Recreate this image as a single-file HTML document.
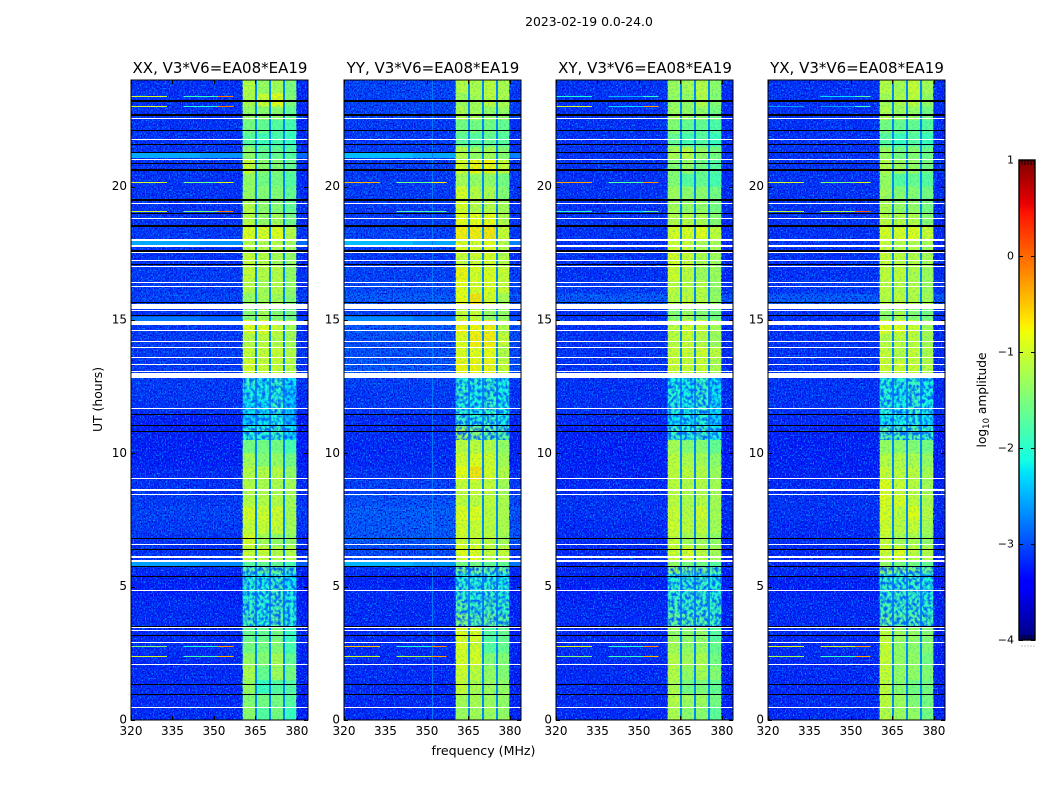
<!DOCTYPE html>
<html lang="en">
<head>
<meta charset="utf-8">
<title>2023-02-19 0.0-24.0 amplitude waterfall</title>
<style>
html,body{margin:0;padding:0;background:#fff;width:1050px;height:800px;overflow:hidden}
svg{display:block}
text{font-family:"DejaVu Sans","Liberation Sans",sans-serif;fill:#000}
</style>
</head>
<body>
<svg id="chart" xmlns="http://www.w3.org/2000/svg" width="1050" height="800" viewBox="0 0 1050 800">
<defs>
<filter id="grain-light" x="0" y="0" width="1" height="1" color-interpolation-filters="sRGB"><feTurbulence type="fractalNoise" baseFrequency="0.75 0.6" numOctaves="1" seed="4"/><feColorMatrix values="0 0 0 0 0  0 0 0 0 .6  0 0 0 0 1  4 0 0 0 -1.95"/></filter>
<filter id="grain-dark" x="0" y="0" width="1" height="1" color-interpolation-filters="sRGB"><feTurbulence type="fractalNoise" baseFrequency="0.75 0.6" numOctaves="1" seed="11"/><feColorMatrix values="0 0 0 0 0  0 0 0 0 .02  0 0 0 0 .8  4 0 0 0 -1.9"/></filter>
<filter id="grain-quiet" x="0" y="0" width="1" height="1" color-interpolation-filters="sRGB"><feTurbulence type="fractalNoise" baseFrequency="0.32 0.28" numOctaves="2" seed="23"/><feColorMatrix values="0 0 0 0 0  0 0 0 0 .38  0 0 0 0 1  3.2 0 0 0 -1.25"/></filter>
<filter id="grain-band" x="0" y="0" width="1" height="1" color-interpolation-filters="sRGB"><feTurbulence type="fractalNoise" baseFrequency="0.5 0.55" numOctaves="1" seed="31"/><feColorMatrix values="0 0 0 0 0  0 0 0 0 .75  0 0 0 0 .7  2 0 0 0 -.85"/></filter>
<linearGradient id="colorbar-gradient" x1="0" y1="1" x2="0" y2="0"></linearGradient>
</defs>
<text x="589" y="26" font-size="12.4" text-anchor="middle">2023-02-19 0.0-24.0</text>
<text x="483.5" y="755" font-size="12.6" text-anchor="middle">frequency (MHz)</text>
<text transform="translate(102,399.5) rotate(-90)" font-size="12.4" text-anchor="middle">UT (hours)</text>
<text transform="translate(986,400) rotate(-90)" font-size="12.2" text-anchor="middle">log<tspan font-size="8.5" dy="3">10</tspan><tspan dy="-3"> amplitude</tspan></text>
<g id="panels"></g>
<g id="colorbar"></g>
</svg>
<script>
const panelTitles = ["XX, V3*V6=EA08*EA19", "YY, V3*V6=EA08*EA19", "XY, V3*V6=EA08*EA19", "YX, V3*V6=EA08*EA19"];
const xTicks = [320, 335, 350, 365, 380];
const yTicks = [0, 5, 10, 15, 20];
const colorTicks = [1, 0, -1, -2, -3, -4];
const freqRange = [320, 384];
const utRange = [0, 24];
const colorRange = [-4, 1];
const rowHours = 0.5;
const bandEdges = [[360.4, 364.8], [365.6, 369.9], [370.6, 374.9], [375.6, 379.8]];
const gapLevel = -2.72;

/* log10 amplitude per half-hour row, four receiver bands: [b1, b2, b3, b4] */
const xxBands = [[-1.35,-1.7,-1.5,-1.9],[-1.4,-1.5,-1.5,-1.7],[-1.3,-1.9,-1.7,-1.7],[-1.15,-1.6,-1.25,-1.5],[-1.3,-1.4,-1.2,-1.6],[-1.5,-1.5,-1.4,-1.8],[-1.6,-1.6,-1.5,-1.9],[-1.8,-2,-1.7,-2],[-1.9,-2,-1.8,-2],[-2,-2,-1.8,-2.1],[-2,-2.1,-1.9,-2.2],[-1.7,-1.6,-1.6,-1.8],[-1,-1,-1.1,-1.1],[-.9,-1.2,-1.3,-1.3],[-1,-1,-1,-1.2],[-.9,-.95,-.95,-1.2],[-1.1,-1.1,-1.1,-1.2],[-1.1,-1.15,-1.15,-1.2],[-1.1,-1.1,-1.1,-1.3],[-1.2,-1.4,-1.3,-1.5],[-1.5,-1.5,-1.5,-1.8],[-2,-2,-1.9,-2.2],[-2.3,-2.2,-2.1,-2.4],[-2.2,-2.2,-1.9,-2.3],[-2.1,-2.1,-2,-2.3],[-1.9,-2.1,-1.9,-2.2],[-.9,-1,-1,-1.1],[-1,-1,-1,-1.1],[-1.1,-1.05,-1.1,-1.2],[-.85,-.85,-1,-1.2],[-1.4,-1.2,-1.4,-1.5],[-1.3,-1.2,-1.2,-1.4],[-1.1,-1.2,-1.1,-1.3],[-1,-1.1,-1.1,-1.3],[-1,-1.1,-1.2,-1.3],[-1.1,-1.1,-1.1,-1.2],[-.85,-.9,-.85,-1.1],[-1.1,-1.3,-1.2,-1.5],[-1.1,-1.35,-1.4,-1.6],[-1.3,-1.4,-1.4,-1.6],[-1.3,-1.5,-1.5,-1.7],[-1,-1.35,-1.4,-1.6],[-1.35,-1.6,-1.6,-1.7],[-1.7,-1.85,-1.8,-1.9],[-1.5,-1.6,-1.7,-1.8],[-1.3,-1.35,-1.35,-1.6],[-1.15,-1,-.85,-1.4],[-1.1,-1.3,-1.2,-1.45]];
const yyBands = [[-1.25,-1.2,-1.25,-1.3],[-1.2,-1.15,-1.25,-1.3],[-1,-1.15,-1.25,-1.3],[-.95,-1.05,-1.3,-1.4],[-.9,-.9,-1.4,-1.4],[-.9,-.95,-1.7,-1.6],[-.85,-.9,-1.7,-1.6],[-1.4,-1.7,-1.6,-1.7],[-1.7,-1.9,-1.8,-1.9],[-1.9,-2,-1.9,-2],[-2,-2,-2,-2.1],[-1.5,-1.5,-1.6,-1.6],[-.85,-.85,-1,-1],[-.95,-1,-1.05,-1.2],[-.9,-1,-1.05,-1.15],[-.85,-.85,-1.05,-1.15],[-1.05,-1.05,-1.05,-1.15],[-1,-1,-1,-1.2],[-.8,-.65,-.9,-1.1],[-.95,-.85,-.95,-1.2],[-1.05,-1.05,-1.1,-1.3],[-1.2,-1.4,-1.6,-1.7],[-1.9,-2,-1.9,-2.1],[-2,-2.1,-1.9,-2.1],[-1.9,-2.1,-1.9,-2.1],[-2,-2,-1.9,-2.1],[-.75,-.75,-.75,-1],[-.85,-.8,-.8,-1.1],[-.85,-.7,-.7,-1],[-.75,-.75,-.7,-1.1],[-1,-1,-1.3,-1.3],[-.8,-.65,-.9,-1.2],[-.8,-.9,-.85,-1],[-.75,-.9,-.85,-1],[-1,-.95,-.9,-1.1],[-.85,-.9,-.8,-1.1],[-.7,-.7,-.65,-1],[-.8,-.8,-.8,-1.1],[-.9,-1.1,-1.1,-1.2],[-.9,-1.1,-1.15,-1.4],[-1.2,-1.3,-1.3,-1.5],[-.9,-.75,-.75,-1],[-1.1,-1.3,-1.2,-1.4],[-1.65,-1.7,-1.6,-1.7],[-1.5,-1.5,-1.5,-1.6],[-1.15,-1.2,-1.3,-1.3],[-1.25,-1.2,-1.05,-1.15],[-1.1,-1.15,-1.05,-1.15]];
const xyBands = [[-1.15,-1.35,-1.35,-1.65],[-1.1,-1.25,-1.25,-1.5],[-1.15,-1.5,-1.45,-1.6],[-1.1,-1.3,-1.2,-1.4],[-1.1,-1.2,-1.15,-1.5],[-1.2,-1.3,-1.3,-1.6],[-1.3,-1.35,-1.3,-1.7],[-1.6,-1.7,-1.7,-1.85],[-1.8,-1.9,-1.85,-1.9],[-1.9,-1.9,-1.9,-2],[-2,-1.95,-1.9,-2.05],[-1.3,-1.5,-1.5,-1.7],[-.95,-.9,-1.05,-1.2],[-1,-1.2,-1.2,-1.3],[-.95,-1.05,-1.05,-1.2],[-1,-1.1,-.95,-1.2],[-1.05,-1.15,-1.1,-1.2],[-1.05,-1.1,-1.1,-1.2],[-1.05,-1.05,-1.1,-1.25],[-1.05,-1.15,-1.2,-1.35],[-1.2,-1.4,-1.4,-1.6],[-1.9,-2,-1.85,-2.1],[-2.2,-2.15,-2,-2.3],[-2,-2.1,-1.9,-2.2],[-2,-2.1,-1.9,-2.2],[-2.1,-2.1,-1.9,-2.2],[-.95,-1,-1,-1.15],[-1,-1,-.95,-1.05],[-1.05,-1,-1.1,-1.25],[-1.05,-.95,-1,-1.2],[-1.4,-1.25,-1.4,-1.5],[-1.1,-1.05,-1.1,-1.3],[-1.05,-1.1,-1.1,-1.3],[-.95,-1.05,-1.25,-1.25],[-.9,-1,-1.15,-1.25],[-.95,-1,-1.15,-1.2],[-.9,-.9,-.85,-1.05],[-1.1,-1.1,-1.15,-1.4],[-1.2,-1.3,-1.3,-1.5],[-1.25,-1.35,-1.35,-1.5],[-1.4,-1.7,-1.6,-1.8],[-1.4,-1.3,-1.5,-1.7],[-1.2,-1.1,-1.3,-1.5],[-1.6,-1.8,-1.7,-1.9],[-1.4,-1.6,-1.6,-1.75],[-1.25,-1.3,-1.3,-1.5],[-1.3,-1.3,-1.1,-1.4],[-1.25,-1.2,-1.1,-1.35]];
const yxBands = [[-1.1,-1.25,-1.3,-1.5],[-1.05,-1.25,-1.4,-1.5],[-1.05,-1.35,-1.5,-1.5],[-1,-1.3,-1.3,-1.4],[-1,-1.3,-1.3,-1.5],[-1,-1.3,-1.35,-1.4],[-1.05,-1.25,-1.3,-1.4],[-1.6,-1.7,-1.7,-1.8],[-1.8,-1.85,-1.85,-1.95],[-1.9,-1.85,-1.9,-2],[-1.9,-1.95,-1.9,-2.05],[-1.3,-1.5,-1.5,-1.6],[-.95,-.85,-1.05,-1.1],[-1,-1.2,-1.15,-1.3],[-.95,-1.05,-1,-1.2],[-.9,-1.05,-.85,-1.1],[-.85,-.9,-1.05,-1.15],[-.85,-1,-1.05,-1.2],[-1,-1.05,-1.05,-1.2],[-1.1,-1.1,-1.15,-1.3],[-1.3,-1.35,-1.4,-1.5],[-1.7,-1.75,-1.7,-1.9],[-2.15,-2.1,-2,-2.2],[-2,-2.1,-1.9,-2.1],[-2,-2.1,-1.9,-2.1],[-2,-2,-1.9,-2.1],[-.95,-.95,-1,-1.1],[-1,-1.1,-1,-1.15],[-1.1,-1.05,-1.05,-1.2],[-.85,-.85,-.95,-1.2],[-1.35,-1.2,-1.4,-1.5],[-1.1,-1.05,-1.1,-1.2],[-1.05,-1.1,-1.1,-1.25],[-1.05,-1.05,-1.15,-1.25],[-1,-1.05,-1.1,-1.2],[-1,-1.1,-1.1,-1.2],[-.9,-.9,-.85,-1],[-1.05,-1.1,-1.1,-1.4],[-1.15,-1.3,-1.3,-1.5],[-1.25,-1.4,-1.4,-1.5],[-1.3,-1.7,-1.6,-1.7],[-1.1,-1.25,-1.3,-1.5],[-1.3,-1.5,-1.4,-1.55],[-1.7,-1.9,-1.7,-1.9],[-1.5,-1.6,-1.6,-1.7],[-1.15,-1.25,-1.3,-1.5],[-1.2,-1.15,-1.05,-1.3],[-1.1,-1.2,-1,-1.2]];

/* out-of-band background level per half-hour row */
const xxBackground = [-3.2,-3.2,-3.2,-3.2,-3.2,-3.2,-3.2,-3.2,-3.2,-3.25,-3.25,-3.2,-3.15,-3.15,-3.1,-3.05,-3.1,-3.15,-3.2,-3.25,-3.25,-3.25,-3.25,-3.15,-3.1,-3.1,-3.1,-3.1,-3.1,-3.1,-3.15,-3.05,-3.1,-3.1,-3.15,-3.15,-3.1,-3.15,-3.15,-3.15,-3.15,-3.15,-3.15,-3.15,-3.15,-3.15,-3.15,-3.15];
const yyBackground = [-3.2,-3.2,-3.2,-3.2,-3.2,-3.2,-3.2,-3.2,-3.2,-3.2,-3.25,-3.15,-3,-2.92,-2.92,-2.9,-2.97,-3.05,-3.15,-3.2,-3.2,-3.2,-3.2,-3.1,-3.1,-3.05,-2.92,-2.97,-2.97,-2.92,-3.05,-2.92,-3,-3.05,-3.1,-3.1,-3.05,-3.1,-3.1,-3.1,-3.1,-3.1,-3.1,-3.1,-3.1,-3.05,-3.05,-3.05];
const xyBackground = [-3.2,-3.2,-3.2,-3.2,-3.2,-3.2,-3.2,-3.2,-3.2,-3.25,-3.25,-3.2,-3.2,-3.2,-3.2,-3.15,-3.15,-3.2,-3.25,-3.25,-3.25,-3.25,-3.2,-3.15,-3.15,-3.15,-3.15,-3.15,-3.15,-3.15,-3.15,-2.92,-3.1,-3.15,-3.15,-3.15,-3.15,-3.15,-3.15,-3.15,-3.15,-3.15,-3.15,-3.15,-3.15,-3.15,-3.15,-3.15];
const yxBackground = [-3.2,-3.2,-3.2,-3.2,-3.2,-3.2,-3.2,-3.2,-3.2,-3.25,-3.25,-3.2,-3.2,-3.2,-3.2,-3.15,-3.15,-3.2,-3.25,-3.25,-3.25,-3.25,-3.2,-3.15,-3.15,-3.15,-3.15,-3.15,-3.15,-3.15,-3.15,-2.92,-3.1,-3.15,-3.15,-3.15,-3.15,-3.15,-3.15,-3.15,-3.15,-3.15,-3.15,-3.15,-3.15,-3.15,-3.15,-3.15];

/* UT spans [start, end] flagged as missing (white) or dropped (black) */
const whiteFlags = [[22.54,22.58],[21.75,21.79],[21,21.04],[19.35,19.39],[18.79,18.83],[17.96,18.02],[17.75,17.81],[17.51,17.55],[17.21,17.25],[17,17.04],[16.4,16.44],[16.25,16.29],[15.41,15.6],[15.35,15.39],[14.81,14.96],[14.59,14.63],[14.18,14.21],[13.96,13.99],[13.58,13.62],[13.32,13.36],[13.05,13.09],[12.83,13.01],[11.66,11.7],[9.04,9.08],[8.59,8.66],[8.42,8.46],[6.56,6.6],[6.09,6.15],[5.94,6],[4.84,4.875],[3.43,3.47],[3.34,3.375],[2.89,2.925],[2.06,2.1],[.45,.49]];
const blackFlags = [[23.16,23.24],[22.67,22.74],[22.09,22.14],[21.56,21.6],[21.26,21.3],[20.85,20.89],[20.61,20.68],[19.46,19.52],[18.96,19],[18.49,18.56],[17.55,17.62],[17.06,17.1],[15.66,15.69],[15.13,15.17],[11.44,11.475],[11.03,11.06],[10.8,10.84],[6.79,6.825],[6.375,6.41],[5.74,5.775],[5.36,5.4],[3.49,3.525],[3.15,3.19],[1.31,1.35],[.94,.975]];

/* UT spans where the receiver bands are weak and noisy */
const quietSpans = [[3.5,5.75],[10.5,12.85]];

/* brighter broadband strips: [UT start, UT end, level]; only XX and YY show them */
const xxStrips = [[21.07,21.26,-2.55],[17.81,17.96,-2.55],[14.96,15.13,-2.78],[5.78,5.94,-2.6]];
const yyStrips = [[21.07,21.26,-2.45],[17.81,17.96,-2.45],[14.96,15.13,-2.7],[5.78,5.94,-2.5]];
const xyStrips = [];
const yxStrips = [];

/* narrow-band interference: [UT, level 320-333 MHz, level 339-351.5 MHz, level 351.5-357 MHz] */
const xxRfi = [[23.41,-1,-1.9,-.1],[23.04,-1,-2,-.1],[20.19,-1,-1.6,-.9],[19.08,-1,-1.5,-.1],[2.76,-1.5,-2,-.3],[2.41,-1,-1.8,-.4]];
const yyRfi = [[20.19,-.4,-1.6,-.7],[19.08,null,-1.8,-1.7],[2.76,-.5,-2,-.2],[2.41,-1,-1.2,-.3]];
const xyRfi = [[23.41,-2.1,-2.5,-2],[23.04,-1,-2.3,-.3],[20.19,-.3,-1.7,-.2],[19.08,-2,-2.3,-1.7],[2.76,-.9,-2,-.2],[2.41,-1.5,-1.9,-.4]];
const yxRfi = [[23.41,null,-2.3,-1.8],[23.04,-2.6,-2.6,-1.9],[20.19,-1,-1.5,-.9],[19.08,-1.1,-1.2,.1],[2.76,-.9,-1,-.3],[2.41,-1.3,-1.9,-.3]];
const rfiRanges = [[320,333],[339,351.5],[351.5,357]];
const yySpurFrequency = 352;
const yySpurLevel = -2.78;

const panelBands = [xxBands, yyBands, xyBands, yxBands];
const panelBackground = [xxBackground, yyBackground, xyBackground, yxBackground];
const panelStrips = [xxStrips, yyStrips, xyStrips, yxStrips];
const panelRfi = [xxRfi, yyRfi, xyRfi, yxRfi];

const plotLeft = [131, 344, 556, 768];
const plotWidth = 177, plotTop = 80, plotBottom = 720;
const NS = "http://www.w3.org/2000/svg";

function make(parent, tag, attrs) {
  const el = document.createElementNS(NS, tag);
  for (const k in attrs) el.setAttribute(k, attrs[k]);
  parent.appendChild(el);
  return el;
}
function xScale(i, f) { return plotLeft[i] + (f - freqRange[0]) / (freqRange[1] - freqRange[0]) * plotWidth; }
function yScale(ut) { return plotBottom - (ut - utRange[0]) / (utRange[1] - utRange[0]) * (plotBottom - plotTop); }
function ramp(pts, x) {
  for (let j = 1; j < pts.length; j++) {
    if (x <= pts[j][0]) return pts[j-1][1] + (x - pts[j-1][0]) / (pts[j][0] - pts[j-1][0]) * (pts[j][1] - pts[j-1][1]);
  }
  return pts[pts.length-1][1];
}
function jet(level) {
  const x = Math.max(0, Math.min(1, (level - colorRange[0]) / (colorRange[1] - colorRange[0])));
  const r = ramp([[0,0],[.35,0],[.66,1],[.89,1],[1,.5]], x);
  const g = ramp([[0,0],[.125,0],[.375,1],[.64,1],[.91,0],[1,0]], x);
  const b = ramp([[0,.5],[.11,1],[.34,1],[.65,0],[1,0]], x);
  return "rgb(" + Math.round(r*255) + "," + Math.round(g*255) + "," + Math.round(b*255) + ")";
}
function cell(g, i, f0, f1, ut0, ut1, level, name) {
  const x0 = xScale(i, f0), x1 = xScale(i, f1), y0 = yScale(ut1), y1 = yScale(ut0);
  const r = make(g, "rect", {x: x0, y: y0, width: x1 - x0, height: y1 - y0, fill: jet(level), "shape-rendering": "crispEdges"});
  
  
  return r;
}
function hline(g, i, f0, f1, yTop, height, fill, name) {
  const r = make(g, "rect", {x: xScale(i, f0), y: yTop, width: xScale(i, f1) - xScale(i, f0), height: height, fill: fill, "shape-rendering": "crispEdges"});
  
  
  return r;
}
function flagSpan(g, i, s, fill, name) {
  const top = Math.round(yScale(s[1]));
  const h = Math.max(1, Math.round(yScale(s[0]) - yScale(s[1])));
  hline(g, i, freqRange[0], freqRange[1], top, h, fill, name);
}
function grain(g, i, f0, f1, ut0, ut1, filterId, opacity) {
  const t = make(g, "rect", {x: xScale(i, f0), y: yScale(ut1), width: xScale(i, f1) - xScale(i, f0), height: yScale(ut0) - yScale(ut1), filter: "url(#" + filterId + ")", opacity: opacity});
  
  
}

const panelsRoot = document.getElementById("panels");
panelTitles.forEach(function (title, i) {
  const g = make(panelsRoot, "g", {});
  
  

  const bands = panelBands[i], bg = panelBackground[i];
  bands.forEach(function (row, r) {
    const ut0 = r * rowHours, ut1 = (r + 1) * rowHours;
    cell(g, i, freqRange[0], bandEdges[0][0], ut0, ut1, bg[r], 'heatmap-cell');
    bandEdges.forEach(function (edge, b) {
      cell(g, i, edge[0], edge[1], ut0, ut1, row[b], 'heatmap-cell');
      const gapEnd = b < bandEdges.length - 1 ? bandEdges[b+1][0] : freqRange[1];
      cell(g, i, edge[1], gapEnd, ut0, ut1, b < bandEdges.length - 1 ? gapLevel : bg[r] - 0.05, 'heatmap-cell');
    });
  });

  /* pixel texture: out-of-band speckle, faint in-band mottling, heavier in quiet spans */
  [[freqRange[0], bandEdges[0][0]], [bandEdges[3][1], freqRange[1]]].forEach(function (span) {
    grain(g, i, span[0], span[1], utRange[0], utRange[1], "grain-light", 1);
    grain(g, i, span[0], span[1], utRange[0], utRange[1], "grain-dark", 1);
  });
  grain(g, i, bandEdges[0][0], bandEdges[3][1], utRange[0], utRange[1], "grain-band", 0.5);
  quietSpans.forEach(function (s) {
    grain(g, i, bandEdges[0][0], bandEdges[3][1], s[0], s[1], "grain-quiet", 1);
  });

  panelStrips[i].forEach(function (s) {
    cell(g, i, freqRange[0], 345, s[0], s[1], s[2], 'broadband-strip');
    cell(g, i, 345, bandEdges[0][0], s[0], s[1], s[2] - 0.1, 'broadband-strip');
    cell(g, i, bandEdges[3][1], freqRange[1], s[0], s[1], s[2] - 0.3, 'broadband-strip');
  });

  if (i === 1) {
    cell(g, i, yySpurFrequency - 0.2, yySpurFrequency + 0.2, utRange[0], utRange[1], yySpurLevel, 'rfi-spur-column');
  }

  panelRfi[i].forEach(function (line) {
    rfiRanges.forEach(function (range, k) {
      const level = line[k + 1];
      if (level === null) return;
      hline(g, i, range[0], range[1], Math.round(yScale(line[0])), 1, jet(level), 'rfi-line');
    });
  });

  whiteFlags.forEach(function (s) { flagSpan(g, i, s, "#fff", 'flagged-gap-white'); });
  blackFlags.forEach(function (s) { flagSpan(g, i, s, "#000", 'flagged-gap-black'); });

  const frame = make(g, "rect", {x: plotLeft[i], y: plotTop, width: plotWidth, height: plotBottom - plotTop, fill: "none", stroke: "#000", "stroke-width": 1});
  
  

  xTicks.forEach(function (t) {
    const x = Math.round(xScale(i, t)) + 0.5;
    [[plotBottom, plotBottom - 4], [plotTop, plotTop + 4]].forEach(function (p) {
      const tick = make(g, "line", {x1: x, x2: x, y1: p[0], y2: p[1], stroke: "#000", "stroke-width": 1});
      
      
    });
    const label = make(g, "text", {x: xScale(i, t), y: 735, "font-size": 12, "text-anchor": "middle"});
    label.textContent = String(t);
    
    
  });
  yTicks.forEach(function (t) {
    const y = Math.round(yScale(t)) + 0.5;
    [[plotLeft[i], plotLeft[i] + 4], [plotLeft[i] + plotWidth, plotLeft[i] + plotWidth - 4]].forEach(function (p) {
      const tick = make(g, "line", {x1: p[0], x2: p[1], y1: y, y2: y, stroke: "#000", "stroke-width": 1});
      
      
    });
    const label = make(g, "text", {x: plotLeft[i] - 4, y: yScale(t) + 3.5, "font-size": 12, "text-anchor": "end"});
    label.textContent = String(t);
    
    
  });

  const titleEl = make(g, "text", {x: plotLeft[i] + plotWidth / 2 + 0.5, y: 73, "font-size": 15, "text-anchor": "middle"});
  titleEl.textContent = title;
  
  
});

/* colorbar */
const barX = 1019, barW = 16, barTop = 160, barBottom = 640;
function barScale(level) { return barBottom - (level - colorRange[0]) / (colorRange[1] - colorRange[0]) * (barBottom - barTop); }
const gradient = document.getElementById("colorbar-gradient");
[0,.11,.125,.34,.35,.375,.64,.65,.66,.89,.91,1].forEach(function (p) {
  make(gradient, "stop", {offset: p, "stop-color": jet(colorRange[0] + p * (colorRange[1] - colorRange[0]))});
});
const barRoot = document.getElementById("colorbar");
const fillBar = make(barRoot, "rect", {x: barX, y: barTop, width: barW, height: barBottom - barTop, fill: "url(#colorbar-gradient)"});


colorTicks.forEach(function (t) {
  const y = Math.round(barScale(t)) + 0.5;
  [[barX, barX + 4], [barX + barW, barX + barW - 4]].forEach(function (p) {
    const tick = make(barRoot, "line", {x1: p[0], x2: p[1], y1: y, y2: y, stroke: "#000", "stroke-width": 1});
    
    
  });
  const label = make(barRoot, "text", {x: barX - 5, y: barScale(t) + 3.5, "font-size": 11, "text-anchor": "end"});
  label.textContent = t < 0 ? "\u2212" + Math.abs(t) : String(t);
  
  
});
[3, 6, 9, 12, 15].forEach(function (dx) {
  const topMinor = make(barRoot, "line", {x1: barX + dx, x2: barX + dx, y1: barTop, y2: barTop + 5, stroke: "#000", "stroke-width": 1});
  
  
  const bottomMinor = make(barRoot, "line", {x1: barX + dx, x2: barX + dx, y1: barBottom, y2: barBottom - 5, stroke: "#000", "stroke-width": 1});
  
  
  const dot = make(barRoot, "rect", {x: barX + dx - 0.5, y: 645.5, width: 1, height: 1, fill: "#888"});
  
  
});
const barFrame = make(barRoot, "rect", {x: barX, y: barTop, width: barW, height: barBottom - barTop, fill: "none", stroke: "#000", "stroke-width": 1.4});


</script>
</body>
</html>
